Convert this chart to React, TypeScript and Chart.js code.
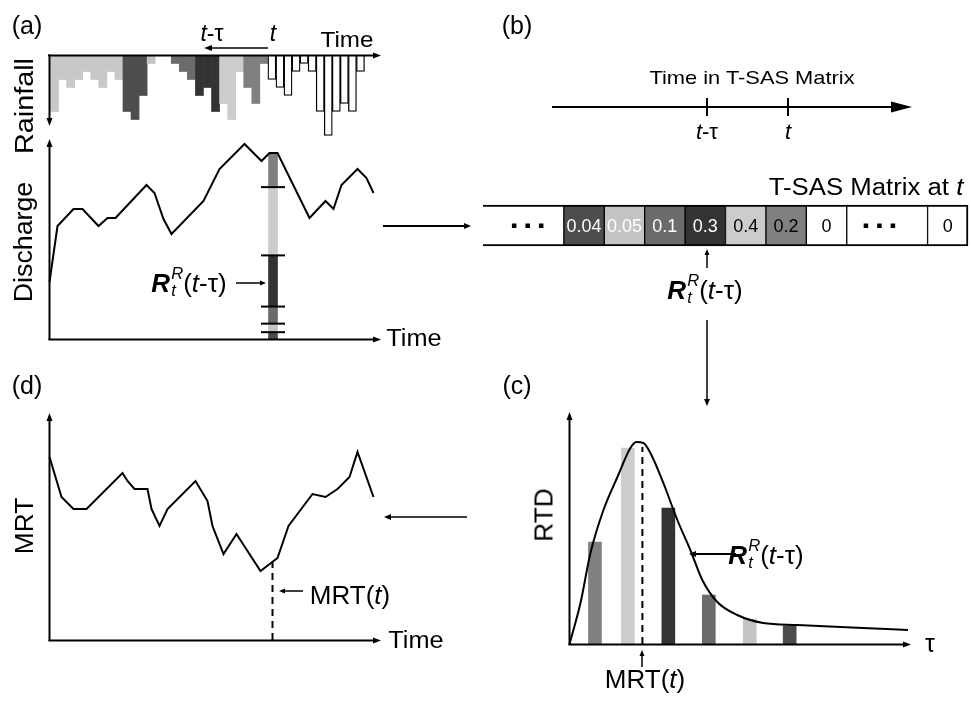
import React, { useEffect, useRef } from 'react';
import { Chart, registerables } from 'chart.js';

Chart.register(...registerables);

const W = 971;
const H = 704;
const FF = '"Liberation Sans", Arial, Helvetica, sans-serif';

// ---------------- data ----------------
// (a) rainfall depth per time step (units of 8 px in the reference), drawn downward
const rainDepth = [7, 3, 4, 3, 2, 3, 4, 2, 3, 7, 8, 5, 1, 0, 0, 1, 2, 3, 5, 4, 7, 6, 8, 2, 4, 6, 1, 3, 4, 5, 2, 1, 2, 7, 10, 7, 6, 7, 2];
// age bin that each rainfall step belongs to (-1 older, 0..5 = matrix bins, 6 = future)
const rainBin = [-1, -1, -1, -1, -1, -1, -1, -1, -1, 0, 0, 0, 1, -1, -1, 2, 2, 2, 3, 3, 3, 4, 4, 4, 5, 5, 5, 6, 6, 6, 6, 6, 6, 6, 6, 6, 6, 6, 6];

// (a) discharge
const qTime = [0, 8, 24, 33, 49, 58, 66, 97, 105, 114, 122, 154, 170, 195, 212, 220, 228, 260, 276, 284, 292, 308, 317, 324];
const qValue = [57, 113, 130, 130, 113, 121, 121, 154, 146, 120, 105, 138, 170, 195, 178, 186, 186, 121, 138, 130, 154, 170, 161, 146];
const tNow = 223.5;
const qNow = 186;

// (b) T-SAS matrix at t (oldest -> newest)
const tsasFraction = [0.04, 0.05, 0.1, 0.3, 0.4, 0.2];
const matrixText = ['', '0.04', '0.05', '0.1', '0.3', '0.4', '0.2', '0', '', '0'];
const matrixSpan = [2, 1, 1, 1, 1, 1, 1, 1, 2, 1];
const matrixBin = [-1, 0, 1, 2, 3, 4, 5, -1, -1, -1];

// (c) RTD
const rtdTau = [25.5, 58.5, 99, 139.5, 180.5, 220.5];
const rtdBar = [102, 196, 136, 49, 25, 18];
const rtdCurveTau = [0, 11, 21, 34, 48, 61, 67, 74, 81, 94, 108, 121, 133, 148, 168, 194, 228, 294, 339];
const rtdCurve = [0, 41, 91, 134, 167, 196, 202, 201, 191, 161, 124, 94, 64, 42, 29, 21, 19, 16, 14];
const mrtTau = 73;
const mrtTauTop = 197;

// (d) MRT
const mrtTime = [0, 12, 24, 37, 73, 78, 85, 98, 102, 110, 118, 146, 158, 163, 174, 187, 211, 228, 239, 263, 276, 288, 300, 308, 324];
const mrtValue = [183, 143, 131, 131, 167, 159, 151, 151, 131, 114, 131, 159, 139, 114, 86, 106, 69, 82, 114, 146, 143, 151, 163, 188, 143];
const mrtNowTime = 223;
const mrtNow = 78;

// ---------------- styles ----------------
const binFill = ['#4d4d4d', '#c4c4c4', '#6b6b6b', '#333333', '#cccccc', '#808080'];
const olderFill = '#c8c8c8';
const rainFill = (b: number) => (b >= 0 && b < 6 ? binFill[b] : b === 6 ? '#ffffff' : olderFill);
const whiteText = [true, true, true, true, false, false];

const pad = (l: number, t: number, r: number, b: number) => ({ left: l, top: t, right: W - r, bottom: H - b });

const baseOptions = (l: number, t: number, r: number, b: number) => ({
  responsive: false,
  animation: false as const,
  events: [] as any[],
  layout: { padding: pad(l, t, r, b) },
  plugins: { legend: { display: false }, tooltip: { enabled: false }, title: { display: false } },
});

function arrow(ctx: CanvasRenderingContext2D, x1: number, y1: number, x2: number, y2: number, head = 8, half = 3, lw = 2) {
  const a = Math.atan2(y2 - y1, x2 - x1);
  const c = Math.cos(a);
  const s = Math.sin(a);
  const bx = x2 - head * c;
  const by = y2 - head * s;
  ctx.save();
  ctx.strokeStyle = '#000';
  ctx.fillStyle = '#000';
  ctx.lineWidth = lw;
  ctx.beginPath();
  ctx.moveTo(x1, y1);
  ctx.lineTo(bx + c, by + s);
  ctx.stroke();
  ctx.beginPath();
  ctx.moveTo(x2, y2);
  ctx.lineTo(bx - half * s, by + half * c);
  ctx.lineTo(bx + half * s, by - half * c);
  ctx.closePath();
  ctx.fill();
  ctx.restore();
}

function seg(ctx: CanvasRenderingContext2D, x1: number, y1: number, x2: number, y2: number, lw = 2) {
  ctx.save();
  ctx.strokeStyle = '#000';
  ctx.lineWidth = lw;
  ctx.beginPath();
  ctx.moveTo(x1, y1);
  ctx.lineTo(x2, y2);
  ctx.stroke();
  ctx.restore();
}

// ---------------- chart configs ----------------
function rainConfig(): any {
  return {
    type: 'bar',
    data: {
      labels: rainDepth.map((_, i) => String(i)),
      datasets: [
        {
          data: rainDepth,
          backgroundColor: rainBin.map(rainFill),
          borderColor: '#000',
          borderWidth: rainBin.map((b) => (b === 6 ? 1.3 : 0)),
          barPercentage: 1,
          categoryPercentage: 1,
          clip: false,
        },
      ],
    },
    options: {
      ...baseOptions(50.5, 55.5, 364.5, 135.5),
      scales: {
        x: { display: false },
        y: { display: false, reverse: true, min: 0, max: 10 },
      },
    },
    plugins: [
      {
        id: 'decoA',
        afterDraw(chart: any) {
          const ctx = chart.ctx;
          arrow(ctx, 48, 55.5, 381, 55.5, 8, 3, 2);
          arrow(ctx, 49.5, 54.5, 49.5, 126, 8, 3, 2);
          arrow(ctx, 268, 48, 204, 48, 8, 3, 1.5);
        },
      },
    ],
  };
}

function dischargeConfig(): any {
  const total = tsasFraction.reduce((a, b) => a + b, 0);
  return {
    type: 'bar',
    data: {
      datasets: [
        {
          type: 'line',
          data: qTime.map((x, i) => ({ x, y: qValue[i] })),
          borderColor: '#000',
          borderWidth: 2,
          pointRadius: 0,
          tension: 0,
          stack: 'q',
          order: 0,
          clip: false,
        },
        ...tsasFraction.map((f, i) => ({
          type: 'bar',
          data: [{ x: tNow, y: (f / total) * qNow }],
          backgroundColor: binFill[i],
          borderWidth: 0,
          barThickness: 9,
          stack: 'r',
          order: 1,
          clip: false,
        })),
      ],
    },
    options: {
      ...baseOptions(49.5, 140, 380.5, 339),
      scales: {
        x: { type: 'linear', display: false, min: 0, max: 331, offset: false },
        y: { display: false, min: 0, max: 199, stacked: true },
      },
    },
    plugins: [
      {
        id: 'decoB',
        afterDraw(chart: any) {
          const ctx = chart.ctx;
          for (let d = 1; d < tsasFraction.length; d++) {
            const el = chart.getDatasetMeta(d).data[0];
            if (el) seg(ctx, el.x - 12, el.y, el.x + 12, el.y, 2);
          }
          arrow(ctx, 49.5, 340, 49.5, 139, 8, 3, 2);
          arrow(ctx, 48.5, 339.5, 381, 339.5, 8, 3, 2);
          arrow(ctx, 236, 283, 266, 283, 6, 2.5, 1.5);
          arrow(ctx, 383, 226, 471, 226, 7, 3, 2);
        },
      },
    ],
  };
}

function matrixConfig(): any {
  const n = matrixSpan.length;
  return {
    type: 'bar',
    data: {
      labels: ['T-SAS'],
      datasets: matrixSpan.map((s, i) => ({
        data: [s],
        backgroundColor: matrixBin[i] >= 0 ? binFill[matrixBin[i]] : '#ffffff',
        borderColor: '#000',
        borderWidth: { top: 2, bottom: 2, left: i === 0 ? 0 : 1, right: i === n - 1 ? 2 : 1 },
        borderSkipped: false,
        barPercentage: 1,
        categoryPercentage: 1,
        clip: false,
      })),
    },
    options: {
      ...baseOptions(483, 205, 968, 246),
      indexAxis: 'y',
      scales: {
        x: { display: false, stacked: true, min: 0, max: 12 },
        y: { display: false, stacked: true },
      },
    },
    plugins: [
      {
        id: 'decoC',
        afterDraw(chart: any) {
          const ctx = chart.ctx;
          // time axis of matrix
          seg(ctx, 552, 107, 893, 107, 2);
          ctx.save();
          ctx.fillStyle = '#000';
          ctx.beginPath();
          ctx.moveTo(912, 107);
          ctx.lineTo(891, 101.5);
          ctx.lineTo(891, 112.5);
          ctx.closePath();
          ctx.fill();
          ctx.restore();
          seg(ctx, 707, 98, 707, 116, 2);
          seg(ctx, 788, 98, 788, 116, 2);
          // ellipsis squares
          matrixText.forEach((t, i) => {
            if (t !== '') return;
            const el = chart.getDatasetMeta(i).data[0];
            const cx = (el.x + el.base) / 2 + (i === 0 ? 4 : -8);
            ctx.save();
            ctx.fillStyle = '#000';
            for (let k = -1; k <= 1; k++) ctx.fillRect(cx + k * 13.5 - 2, el.y - 2, 4.5, 4.5);
            ctx.restore();
          });
          arrow(ctx, 707, 268, 707, 249, 6, 2.5, 1.5);
          arrow(ctx, 707, 320, 707, 406, 7, 3, 1.5);
        },
      },
    ],
  };
}

function rtdConfig(): any {
  const rtdFill = binFill.slice().reverse();
  return {
    type: 'bar',
    data: {
      datasets: [
        {
          type: 'line',
          data: rtdCurveTau.map((x, i) => ({ x, y: rtdCurve[i] })),
          borderColor: '#000',
          borderWidth: 2,
          pointRadius: 0,
          cubicInterpolationMode: 'monotone',
          order: 0,
          clip: false,
        },
        {
          type: 'line',
          data: [
            { x: mrtTau, y: 0 },
            { x: mrtTau, y: mrtTauTop },
          ],
          borderColor: '#000',
          borderWidth: 2,
          borderDash: [7, 5],
          pointRadius: 0,
          order: 0,
          clip: false,
        },
        {
          type: 'bar',
          data: rtdTau.map((x, i) => ({ x, y: rtdBar[i] })),
          backgroundColor: rtdFill,
          borderWidth: 0,
          barThickness: 13,
          order: 1,
          clip: false,
        },
      ],
    },
    options: {
      ...baseOptions(569.5, 413, 910, 644),
      scales: {
        x: { type: 'linear', display: false, min: 0, max: 341, offset: false },
        y: { display: false, min: 0, max: 231 },
      },
    },
    plugins: [
      {
        id: 'decoD',
        afterDraw(chart: any) {
          const ctx = chart.ctx;
          arrow(ctx, 569.5, 645, 569.5, 412, 8, 3, 2);
          arrow(ctx, 568.5, 644.5, 911, 644.5, 8, 3, 2);
          arrow(ctx, 736, 554, 689, 554, 7, 3, 2);
          arrow(ctx, 642, 667, 642, 650, 6, 2.5, 1.5);
          arrow(ctx, 467, 517, 384, 517, 7, 3, 1.5);
        },
      },
    ],
  };
}

function mrtConfig(): any {
  return {
    type: 'line',
    data: {
      datasets: [
        {
          data: mrtTime.map((x, i) => ({ x, y: mrtValue[i] })),
          borderColor: '#000',
          borderWidth: 2,
          pointRadius: 0,
          tension: 0,
          clip: false,
        },
        {
          data: [
            { x: mrtNowTime, y: 0 },
            { x: mrtNowTime, y: mrtNow },
          ],
          borderColor: '#000',
          borderWidth: 2,
          borderDash: [7, 5],
          pointRadius: 0,
          clip: false,
        },
      ],
    },
    options: {
      ...baseOptions(49.5, 415, 380.5, 640),
      scales: {
        x: { type: 'linear', display: false, min: 0, max: 331 },
        y: { display: false, min: 0, max: 225 },
      },
    },
    plugins: [
      {
        id: 'decoE',
        afterDraw(chart: any) {
          const ctx = chart.ctx;
          arrow(ctx, 49.5, 641, 49.5, 413, 8, 3, 2);
          arrow(ctx, 48.5, 640.5, 381, 640.5, 8, 3, 2);
          arrow(ctx, 303, 591, 279, 591, 6, 2.5, 1.5);
        },
      },
    ],
  };
}

// ---------------- text ----------------
type LabelProps = {
  x: number;
  y: number;
  size: number;
  rot?: number;
  sx?: number;
  color?: string;
  children: React.ReactNode;
};

function Label({ x, y, size, rot = 0, sx = 1, color = '#000', children }: LabelProps) {
  return (
    <div
      style={{
        position: 'absolute',
        left: x,
        top: y,
        transform: `translate(-50%, -50%) rotate(${rot}deg) scaleX(${sx})`,
        fontSize: size,
        lineHeight: 1,
        whiteSpace: 'nowrap',
        fontFamily: FF,
        color,
      }}
    >
      {children}
    </div>
  );
}

function RLabel() {
  return (
    <span style={{ display: 'inline-flex', alignItems: 'center' }}>
      <b>
        <i>R</i>
      </b>
      <span
        style={{
          display: 'inline-flex',
          flexDirection: 'column',
          fontSize: '0.64em',
          lineHeight: 1.05,
          fontStyle: 'italic',
          marginLeft: 1,
          marginTop: -2,
        }}
      >
        <span>R</span>
        <span>t</span>
      </span>
      <span>
        (<i>t</i>-τ)
      </span>
    </span>
  );
}

export default function App() {
  const refs = [
    useRef<HTMLCanvasElement>(null),
    useRef<HTMLCanvasElement>(null),
    useRef<HTMLCanvasElement>(null),
    useRef<HTMLCanvasElement>(null),
    useRef<HTMLCanvasElement>(null),
  ];

  useEffect(() => {
    const makers = [rainConfig, dischargeConfig, matrixConfig, rtdConfig, mrtConfig];
    const charts = makers.map((m, i) => new Chart(refs[i].current as HTMLCanvasElement, m()));
    return () => charts.forEach((c) => c.destroy());
  }, []);

  const unitW = (968 - 483) / 12;
  let cum = 0;
  const cellCenters = matrixSpan.map((s) => {
    const c = 483 + (cum + s / 2) * unitW;
    cum += s;
    return c;
  });

  return (
    <div
      style={{
        position: 'fixed',
        left: 0,
        top: 0,
        width: W,
        height: H,
        background: '#fff',
        overflow: 'hidden',
        fontFamily: FF,
      }}
    >
      {refs.map((r, i) => (
        <canvas key={i} ref={r} width={W} height={H} style={{ position: 'absolute', left: 0, top: 0 }} />
      ))}

      {/* panel letters */}
      <Label x={27} y={25} size={25}>(a)</Label>
      <Label x={517} y={25} size={25}>(b)</Label>
      <Label x={517} y={385} size={25}>(c)</Label>
      <Label x={27} y={385} size={25}>(d)</Label>

      {/* (a) */}
      <Label x={212} y={33} size={23}>
        <i>t</i>-τ
      </Label>
      <Label x={273} y={33} size={23}>
        <i>t</i>
      </Label>
      <Label x={347} y={40} size={22} sx={1.1}>Time</Label>
      <Label x={24} y={106} size={25} rot={-90} sx={1.15}>Rainfall</Label>
      <Label x={23} y={242} size={25} rot={-90} sx={1.07}>Discharge</Label>
      <Label x={189} y={283} size={26}>
        <RLabel />
      </Label>
      <Label x={414} y={338} size={23} sx={1.1}>Time</Label>

      {/* (b) */}
      <Label x={752} y={77} size={19} sx={1.15}>Time in T-SAS Matrix</Label>
      <Label x={707} y={132} size={22}>
        <i>t</i>-τ
      </Label>
      <Label x={788} y={132} size={22}>
        <i>t</i>
      </Label>
      <Label x={866} y={187} size={23} sx={1.12}>
        T-SAS Matrix at <i>t</i>
      </Label>
      {matrixText.map((t, i) =>
        t === '' ? null : (
          <Label
            key={i}
            x={cellCenters[i]}
            y={226}
            size={18}
            color={matrixBin[i] >= 0 && whiteText[matrixBin[i]] ? '#fff' : '#000'}
          >
            {t}
          </Label>
        )
      )}
      <Label x={705} y={290} size={26}>
        <RLabel />
      </Label>

      {/* (c) */}
      <Label x={544} y={515} size={25} rot={-90} sx={1.05}>RTD</Label>
      <Label x={930} y={643} size={25}>τ</Label>
      <Label x={766} y={555} size={26}>
        <RLabel />
      </Label>
      <Label x={645} y={679} size={26}>
        MRT(<i>t</i>)
      </Label>

      {/* (d) */}
      <Label x={24} y={526} size={25} rot={-90} sx={1.05}>MRT</Label>
      <Label x={350} y={595} size={26}>
        MRT(<i>t</i>)
      </Label>
      <Label x={416} y={640} size={23} sx={1.1}>Time</Label>
    </div>
  );
}
